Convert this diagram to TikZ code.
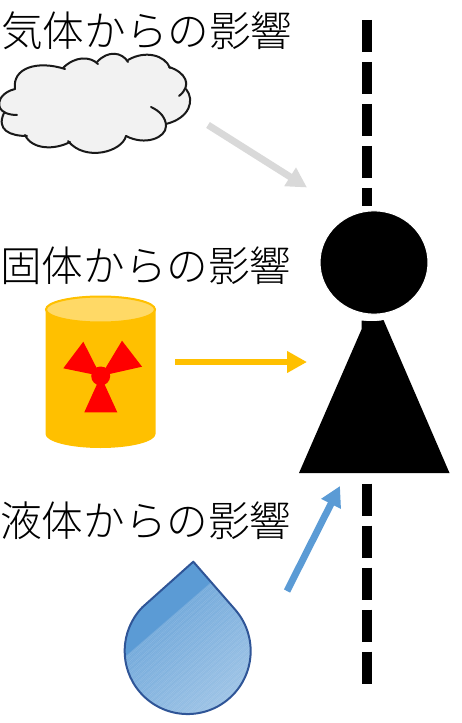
\documentclass[tikz,border=0pt]{standalone}
\usepackage{fontspec}
\newfontfamily\cjk{Noto Sans CJK JP Light}
\usetikzlibrary{arrows.meta,shapes.geometric,calc}
\definecolor{orangeY}{HTML}{FFC000}
\definecolor{orangeL}{HTML}{FFD966}
\definecolor{blueD}{HTML}{5B9BD5}
\definecolor{blueE}{HTML}{2F5597}
\definecolor{greyA}{HTML}{D9D9D9}
\definecolor{cloudF}{HTML}{F2F2F2}
\tikzset{
 lbl/.style={font=\cjk\fontsize{31.2pt}{31.2pt}\selectfont,anchor=west,inner sep=0pt,text=black},
 bigarrow/.style={line width=5.2pt,-{Triangle[length=15pt,width=15.5pt]}},
 axisdash/.style={line width=8.2pt,draw=black,dash pattern=on 24pt off 7.5pt},
 cloudline/.style={draw=black!90,line width=1.5pt,line cap=round},
 blade/.style={fill=red},
}
\begin{document}
\begin{tikzpicture}[x=0.75pt,y=-0.75pt]
\useasboundingbox (0,0) rectangle (461,723);
% labels
\node[lbl] (t1) at (1,31) {気体からの影響};
\node[lbl] (t2) at (0,266) {固体からの影響};
\node[lbl] (t3) at (0,521) {液体からの影響};
% axis
\coordinate (a1) at (367,20);
\coordinate (a2) at (367,206);
\coordinate (a3) at (367,483.5);
\coordinate (a4) at (367,684);
\draw[axisdash] (a1) -- (a2);
\draw[axisdash] (a3) -- (a4);
% person
\fill[black] (361.7,320.5) .. controls (368,321.5) and (378,321.5) .. (383.5,320) -- (449.5,473) -- (299,473) -- (361.7,329) -- cycle;
\node[ellipse,fill=black,draw=white,line width=0.8pt,minimum width=81pt,minimum height=77.5pt,inner sep=0pt] (head) at (374,262.5) {};
% cloud
\fill[cloudF] (15,89) .. controls (12,68) and (37,60) .. (65,68)
 .. controls (78,56) and (90,56) .. (98,62)
 .. controls (110,50) and (122,52) .. (128,60)
 .. controls (145,50) and (165,55) .. (170,68)
 .. controls (185,73) and (192,82) .. (186,89)
 .. controls (195,100) and (190,118) .. (166,124)
 .. controls (166,138) and (145,146) .. (126,136)
 .. controls (122,152) and (85,162) .. (68,142)
 .. controls (55,150) and (32,150) .. (25,135)
 .. controls (10,136) and (-4,130) .. (1,114)
 .. controls (-4,108) and (-4,96) .. (15,89) -- cycle;
\draw[cloudline] (15,89) .. controls (12,68) and (37,60) .. (65,69);
\draw[cloudline] (63,68) .. controls (75,56) and (90,56) .. (98,64);
\draw[cloudline] (97,62) .. controls (108,50) and (122,52) .. (128,62);
\draw[cloudline] (128,60) .. controls (145,50) and (165,55) .. (170,68);
\draw[cloudline] (169,67) .. controls (185,72) and (193,85) .. (179,96);
\draw[cloudline] (186,89) .. controls (195,100) and (190,118) .. (166,124);
\draw[cloudline] (151,107) .. controls (160,111) and (166,118) .. (166,126) .. controls (166,138) and (145,146) .. (126,136);
\draw[cloudline] (126,136) .. controls (122,152) and (85,162) .. (68,141);
\draw[cloudline] (70,142) .. controls (55,150) and (32,150) .. (25,135);
\draw[cloudline] (27,136) .. controls (10,136) and (-4,130) .. (4,113);
\draw[cloudline] (17,115) .. controls (8,115) and (2,112) .. (0,108) .. controls (-3,100) and (3,92) .. (15,89);
\coordinate (c1) at (208,125);
\coordinate (c2) at (307,187.5);
\draw[bigarrow,draw=greyA,fill=greyA] (c1) -- (c2);
% barrel
\path[fill=orangeY] (45.5,309) arc[x radius=55,y radius=13,start angle=180,end angle=360] -- (155.5,434) arc[x radius=55,y radius=14,start angle=0,end angle=180] -- cycle;
\draw[fill=orangeL,draw=orangeY,line width=1.5pt] (100.5,309.5) ellipse[x radius=54.5,y radius=13];
\fill[blade] (100.7,376) -- (83.3,341.7) -- (63.3,368.3) -- cycle;
\fill[blade] (100.7,376) -- (122,340.7) -- (142,366.7) -- cycle;
\fill[blade] (100.7,376) -- (84.3,412.3) -- (117.3,412.3) -- cycle;
\fill[blade] (100.7,376) circle[radius=9.5];
\coordinate (b1) at (175,362);
\coordinate (b2) at (307,362);
\draw[bigarrow,draw=orangeY,fill=orangeY] (b1) -- (b2);
% drop
\begin{scope}
\clip (193.3,561.7) -- (235.2,609.7) arc[radius=63,start angle=-41,end angle=224] -- cycle;
\fill[blueD] (120,550) rectangle (260,720);
\shade[shading=axis,top color=blueD!97!white,bottom color=blueD!40!white,shading angle=41]
 (90,687) -- (231,565) -- (320,668) -- (179,790) -- cycle;
\foreach \k in {0,1.3,...,130}{
 \pgfmathsetmacro{\o}{0.03+0.13*abs(sin(\k*97))}
 \draw[white,opacity=\o,line width=0.4pt] ($(90,687)+({\k*0.65},{\k*0.75})$) -- ($(231,565)+({\k*0.65},{\k*0.75})$);
}
\end{scope}
\draw[blueE,line width=1.5pt,line join=round] (193.3,561.7) -- (235.2,609.7) arc[radius=63,start angle=-41,end angle=224] -- cycle;
\coordinate (d1) at (287,591);
\coordinate (d2) at (340,486);
\draw[bigarrow,draw=blueD,fill=blueD] (d1) -- (d2);
\end{tikzpicture}
\end{document}
